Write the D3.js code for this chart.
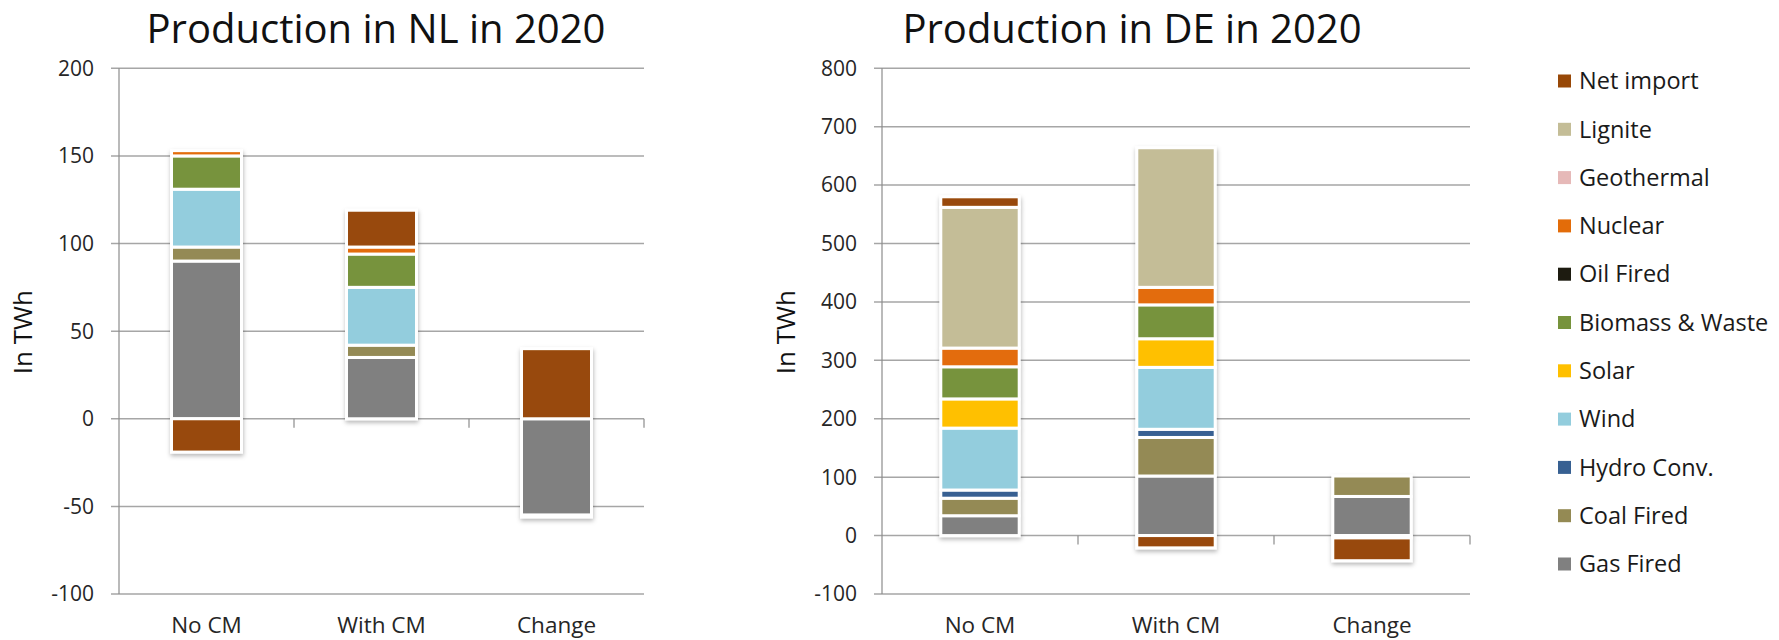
<!DOCTYPE html>
<html>
<head>
<meta charset="utf-8">
<script src="https://cdn.jsdelivr.net/npm/d3@7"></script>
<style>
    body { margin: 0; background: #fff; }
    svg { display: block; font-family: "Open Sans", sans-serif; }
</style>
</head>
<body>
<svg id="chart_svg" width="1779" height="640"></svg>
<script>

// stacking order, bottom to top (legend shows it reversed)
var SERIES = ["Gas Fired", "Coal Fired", "Hydro Conv.", "Wind", "Solar", "Biomass & Waste",
    "Oil Fired", "Nuclear", "Geothermal", "Lignite", "Net import"];
var SERIES_COLORS = ["#808080", "#948a54", "#376092", "#93cddd", "#ffc000", "#77933c",
    "#1d1b10", "#e36c09", "#e6b9b8", "#c4bd97", "#984807"];
var CATEGORIES = ["No CM", "With CM", "Change"];

// TWh, same order as SERIES
var NL_NO_CM   = [90, 8, 0, 33, 0, 19, 0, 3, 0, 0, -19];
var NL_WITH_CM = [35, 7, 0, 33, 0, 19, 0, 4, 0, 0, 21];
var NL_CHANGE  = [-55, -1, 0, 0, 0, 0, 0, 0, 0, 0, 40];

var DE_NO_CM   = [34, 30, 14, 106, 50, 55, 0, 32, 0, 241, 18];
var DE_WITH_CM = [102, 66, 14, 106, 49, 58, 0, 30, 0, 239, -21];
var DE_CHANGE  = [67, 35, 0, 0, 0, 0, 0, -2, 0, -2, -39];

var NL_TICKS = [-100, -50, 0, 50, 100, 150, 200];
var DE_TICKS = [-100, 0, 100, 200, 300, 400, 500, 600, 700, 800];

var color = d3.scaleOrdinal().domain(SERIES).range(SERIES_COLORS);

make_table = function (columns) {
    return CATEGORIES.map(function (cat, i) {
        var row = { category: cat };
        SERIES.forEach(function (s, j) { row[s] = columns[i][j]; });
        return row;
    });
}

make_stack_chart = function (svg, opts) {

    var x = d3.scaleBand()
        .domain(CATEGORIES)
        .range([opts.left, opts.right])
        .paddingInner(0.6)
        .paddingOuter(0.3);

    var y = d3.scaleLinear()
        .domain(d3.extent(opts.ticks))
        .range([opts.bottom, opts.top]);

    var g = svg.append("g");

    // title
    g.append("text")
        .attr("x", opts.titleX)
        .attr("y", 43)
        .attr("text-anchor", "middle")
        .attr("font-size", 40)
        .attr("fill", "#111")
        .text(opts.title);

    // gridlines
    g.append("g")
        .selectAll("line")
        .data(opts.ticks)
        .join("line")
        .attr("x1", opts.left - 8)
        .attr("x2", opts.right)
        .attr("y1", d => y(d))
        .attr("y2", d => y(d))
        .attr("stroke", "#a6a6a6")
        .attr("stroke-width", 1.5);

    // value axis
    g.append("line")
        .attr("x1", opts.left).attr("x2", opts.left)
        .attr("y1", y.range()[1]).attr("y2", y.range()[0])
        .attr("stroke", "#8c8c8c")
        .attr("stroke-width", 1.2);

    g.append("g")
        .attr("font-size", 21)
        .attr("fill", "#262626")
        .attr("text-anchor", "end")
        .selectAll("text")
        .data(opts.ticks)
        .join("text")
        .attr("x", opts.left - 25)
        .attr("y", d => y(d))
        .attr("dy", "0.35em")
        .text(d => d);

    g.append("text")
        .attr("transform", `translate(${opts.left - 96},${(y.range()[0] + y.range()[1]) / 2 + 1}) rotate(-90)`)
        .attr("text-anchor", "middle")
        .attr("dy", "0.35em")
        .attr("font-size", 26)
        .attr("fill", "#111")
        .text("In TWh");

    // category axis sits on zero
    g.append("g")
        .selectAll("line")
        .data(d3.range(1, CATEGORIES.length + 1))
        .join("line")
        .attr("x1", i => opts.left + i * x.step())
        .attr("x2", i => opts.left + i * x.step())
        .attr("y1", y(0))
        .attr("y2", y(0) + 9)
        .attr("stroke", "#8c8c8c")
        .attr("stroke-width", 1.2);

    g.append("g")
        .attr("font-size", 22.5)
        .attr("fill", "#262626")
        .attr("text-anchor", "middle")
        .selectAll("text")
        .data(CATEGORIES)
        .join("text")
        .attr("x", d => x(d) + x.bandwidth() / 2)
        .attr("y", 633)
        .text(d => d);

    // stacked bars
    var layers = d3.stack()
        .keys(SERIES)
        .offset(d3.stackOffsetDiverging)(opts.data);

    var segments = [];
    layers.forEach(function (layer) {
        layer.forEach(function (d) {
            if (d[1] - d[0] !== 0)
                segments.push({ key: layer.key, cat: d.data.category, y0: d[0], y1: d[1] });
        });
    });

    g.append("g")
        .selectAll("g")
        .data(CATEGORIES)
        .join("g")
        .attr("filter", "url(#bar_shadow)")
        .selectAll("rect")
        .data(cat => segments.filter(s => s.cat === cat))
        .join("rect")
        .attr("x", d => x(d.cat))
        .attr("y", d => y(Math.max(d.y0, d.y1)))
        .attr("width", x.bandwidth())
        .attr("height", d => Math.abs(y(d.y0) - y(d.y1)))
        .attr("fill", d => color(d.key))
        .attr("stroke", "#fff")
        .attr("stroke-width", 3);
}

make_legend = function (svg) {
    var items = SERIES.slice().reverse();
    var ly = d3.scalePoint().domain(items).range([81, 564]);

    var lg = svg.append("g")
        .attr("font-size", 23.5)
        .attr("fill", "#1a1a1a");

    lg.selectAll("rect")
        .data(items)
        .join("rect")
        .attr("x", 1558)
        .attr("y", d => ly(d) - 6.5)
        .attr("width", 13)
        .attr("height", 13)
        .attr("fill", d => color(d));

    lg.selectAll("text")
        .data(items)
        .join("text")
        .attr("x", 1579)
        .attr("y", d => ly(d))
        .attr("dy", "0.35em")
        .text(d => d);
}

var svg = d3.select("#chart_svg");

svg.append("defs")
    .append("filter")
    .attr("id", "bar_shadow")
    .attr("x", "-20%").attr("y", "-10%")
    .attr("width", "140%").attr("height", "120%")
    .append("feDropShadow")
    .attr("dx", 0.5)
    .attr("dy", 2.5)
    .attr("stdDeviation", 2)
    .attr("flood-color", "#000")
    .attr("flood-opacity", 0.28);

make_stack_chart(svg, {
    title: "Production in NL in 2020",
    titleX: 376,
    data: make_table([NL_NO_CM, NL_WITH_CM, NL_CHANGE]),
    ticks: NL_TICKS,
    left: 119, right: 644, top: 68.3, bottom: 594
});

make_stack_chart(svg, {
    title: "Production in DE in 2020",
    titleX: 1132,
    data: make_table([DE_NO_CM, DE_WITH_CM, DE_CHANGE]),
    ticks: DE_TICKS,
    left: 882, right: 1470, top: 68.3, bottom: 594
});

make_legend(svg);

</script>
</body>
</html>
